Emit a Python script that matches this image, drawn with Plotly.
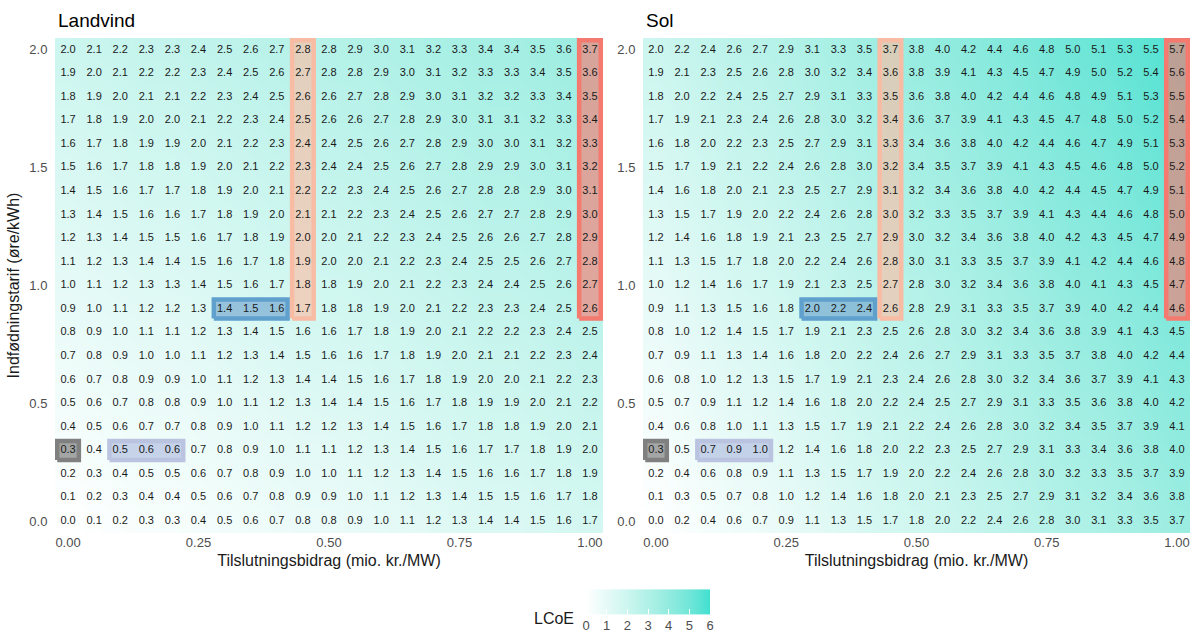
import plotly.graph_objects as go

FONT = "Arial, Liberation Sans, sans-serif"

# Axes: connection charge (columns) and feed-in tariff (rows)
tilslutningsbidrag = [0.00, 0.05, 0.10, 0.15, 0.20, 0.25, 0.30, 0.35, 0.40, 0.45, 0.50,
                      0.55, 0.60, 0.65, 0.70, 0.75, 0.80, 0.85, 0.90, 0.95, 1.00]
indfoedningstarif = [0.0, 0.1, 0.2, 0.3, 0.4, 0.5, 0.6, 0.7, 0.8, 0.9, 1.0,
                     1.1, 1.2, 1.3, 1.4, 1.5, 1.6, 1.7, 1.8, 1.9, 2.0]
x_ticks = [0.00, 0.25, 0.50, 0.75, 1.00]
x_ticktext = ["0.00", "0.25", "0.50", "0.75", "1.00"]
y_ticks = [0.0, 0.5, 1.0, 1.5, 2.0]
y_ticktext = ["0.0", "0.5", "1.0", "1.5", "2.0"]
lcoe_ticks = [0, 1, 2, 3, 4, 5, 6]

# LCoE tables, one row per tariff level, highest tariff (2.0) first
landvind_rows = [
    "2.0 2.1 2.2 2.3 2.3 2.4 2.5 2.6 2.7 2.8 2.8 2.9 3.0 3.1 3.2 3.3 3.4 3.4 3.5 3.6 3.7",
    "1.9 2.0 2.1 2.2 2.2 2.3 2.4 2.5 2.6 2.7 2.8 2.8 2.9 3.0 3.1 3.2 3.3 3.3 3.4 3.5 3.6",
    "1.8 1.9 2.0 2.1 2.1 2.2 2.3 2.4 2.5 2.6 2.6 2.7 2.8 2.9 3.0 3.1 3.2 3.2 3.3 3.4 3.5",
    "1.7 1.8 1.9 2.0 2.0 2.1 2.2 2.3 2.4 2.5 2.6 2.6 2.7 2.8 2.9 3.0 3.1 3.1 3.2 3.3 3.4",
    "1.6 1.7 1.8 1.9 1.9 2.0 2.1 2.2 2.3 2.4 2.4 2.5 2.6 2.7 2.8 2.9 3.0 3.0 3.1 3.2 3.3",
    "1.5 1.6 1.7 1.8 1.8 1.9 2.0 2.1 2.2 2.3 2.4 2.4 2.5 2.6 2.7 2.8 2.9 2.9 3.0 3.1 3.2",
    "1.4 1.5 1.6 1.7 1.7 1.8 1.9 2.0 2.1 2.2 2.2 2.3 2.4 2.5 2.6 2.7 2.8 2.8 2.9 3.0 3.1",
    "1.3 1.4 1.5 1.6 1.6 1.7 1.8 1.9 2.0 2.1 2.1 2.2 2.3 2.4 2.5 2.6 2.7 2.7 2.8 2.9 3.0",
    "1.2 1.3 1.4 1.5 1.5 1.6 1.7 1.8 1.9 2.0 2.0 2.1 2.2 2.3 2.4 2.5 2.6 2.6 2.7 2.8 2.9",
    "1.1 1.2 1.3 1.4 1.4 1.5 1.6 1.7 1.8 1.9 2.0 2.0 2.1 2.2 2.3 2.4 2.5 2.5 2.6 2.7 2.8",
    "1.0 1.1 1.2 1.3 1.3 1.4 1.5 1.6 1.7 1.8 1.8 1.9 2.0 2.1 2.2 2.3 2.4 2.4 2.5 2.6 2.7",
    "0.9 1.0 1.1 1.2 1.2 1.3 1.4 1.5 1.6 1.7 1.8 1.8 1.9 2.0 2.1 2.2 2.3 2.3 2.4 2.5 2.6",
    "0.8 0.9 1.0 1.1 1.1 1.2 1.3 1.4 1.5 1.6 1.6 1.7 1.8 1.9 2.0 2.1 2.2 2.2 2.3 2.4 2.5",
    "0.7 0.8 0.9 1.0 1.0 1.1 1.2 1.3 1.4 1.5 1.6 1.6 1.7 1.8 1.9 2.0 2.1 2.1 2.2 2.3 2.4",
    "0.6 0.7 0.8 0.9 0.9 1.0 1.1 1.2 1.3 1.4 1.4 1.5 1.6 1.7 1.8 1.9 2.0 2.0 2.1 2.2 2.3",
    "0.5 0.6 0.7 0.8 0.8 0.9 1.0 1.1 1.2 1.3 1.4 1.4 1.5 1.6 1.7 1.8 1.9 1.9 2.0 2.1 2.2",
    "0.4 0.5 0.6 0.7 0.7 0.8 0.9 1.0 1.1 1.2 1.2 1.3 1.4 1.5 1.6 1.7 1.8 1.8 1.9 2.0 2.1",
    "0.3 0.4 0.5 0.6 0.6 0.7 0.8 0.9 1.0 1.1 1.1 1.2 1.3 1.4 1.5 1.6 1.7 1.7 1.8 1.9 2.0",
    "0.2 0.3 0.4 0.5 0.5 0.6 0.7 0.8 0.9 1.0 1.0 1.1 1.2 1.3 1.4 1.5 1.6 1.6 1.7 1.8 1.9",
    "0.1 0.2 0.3 0.4 0.4 0.5 0.6 0.7 0.8 0.9 0.9 1.0 1.1 1.2 1.3 1.4 1.5 1.5 1.6 1.7 1.8",
    "0.0 0.1 0.2 0.3 0.3 0.4 0.5 0.6 0.7 0.8 0.8 0.9 1.0 1.1 1.2 1.3 1.4 1.4 1.5 1.6 1.7",
]

sol_rows = [
    "2.0 2.2 2.4 2.6 2.7 2.9 3.1 3.3 3.5 3.7 3.8 4.0 4.2 4.4 4.6 4.8 5.0 5.1 5.3 5.5 5.7",
    "1.9 2.1 2.3 2.5 2.6 2.8 3.0 3.2 3.4 3.6 3.8 3.9 4.1 4.3 4.5 4.7 4.9 5.0 5.2 5.4 5.6",
    "1.8 2.0 2.2 2.4 2.5 2.7 2.9 3.1 3.3 3.5 3.6 3.8 4.0 4.2 4.4 4.6 4.8 4.9 5.1 5.3 5.5",
    "1.7 1.9 2.1 2.3 2.4 2.6 2.8 3.0 3.2 3.4 3.6 3.7 3.9 4.1 4.3 4.5 4.7 4.8 5.0 5.2 5.4",
    "1.6 1.8 2.0 2.2 2.3 2.5 2.7 2.9 3.1 3.3 3.4 3.6 3.8 4.0 4.2 4.4 4.6 4.7 4.9 5.1 5.3",
    "1.5 1.7 1.9 2.1 2.2 2.4 2.6 2.8 3.0 3.2 3.4 3.5 3.7 3.9 4.1 4.3 4.5 4.6 4.8 5.0 5.2",
    "1.4 1.6 1.8 2.0 2.1 2.3 2.5 2.7 2.9 3.1 3.2 3.4 3.6 3.8 4.0 4.2 4.4 4.5 4.7 4.9 5.1",
    "1.3 1.5 1.7 1.9 2.0 2.2 2.4 2.6 2.8 3.0 3.2 3.3 3.5 3.7 3.9 4.1 4.3 4.4 4.6 4.8 5.0",
    "1.2 1.4 1.6 1.8 1.9 2.1 2.3 2.5 2.7 2.9 3.0 3.2 3.4 3.6 3.8 4.0 4.2 4.3 4.5 4.7 4.9",
    "1.1 1.3 1.5 1.7 1.8 2.0 2.2 2.4 2.6 2.8 3.0 3.1 3.3 3.5 3.7 3.9 4.1 4.2 4.4 4.6 4.8",
    "1.0 1.2 1.4 1.6 1.7 1.9 2.1 2.3 2.5 2.7 2.8 3.0 3.2 3.4 3.6 3.8 4.0 4.1 4.3 4.5 4.7",
    "0.9 1.1 1.3 1.5 1.6 1.8 2.0 2.2 2.4 2.6 2.8 2.9 3.1 3.3 3.5 3.7 3.9 4.0 4.2 4.4 4.6",
    "0.8 1.0 1.2 1.4 1.5 1.7 1.9 2.1 2.3 2.5 2.6 2.8 3.0 3.2 3.4 3.6 3.8 3.9 4.1 4.3 4.5",
    "0.7 0.9 1.1 1.3 1.4 1.6 1.8 2.0 2.2 2.4 2.6 2.7 2.9 3.1 3.3 3.5 3.7 3.8 4.0 4.2 4.4",
    "0.6 0.8 1.0 1.2 1.3 1.5 1.7 1.9 2.1 2.3 2.4 2.6 2.8 3.0 3.2 3.4 3.6 3.7 3.9 4.1 4.3",
    "0.5 0.7 0.9 1.1 1.2 1.4 1.6 1.8 2.0 2.2 2.4 2.5 2.7 2.9 3.1 3.3 3.5 3.6 3.8 4.0 4.2",
    "0.4 0.6 0.8 1.0 1.1 1.3 1.5 1.7 1.9 2.1 2.2 2.4 2.6 2.8 3.0 3.2 3.4 3.5 3.7 3.9 4.1",
    "0.3 0.5 0.7 0.9 1.0 1.2 1.4 1.6 1.8 2.0 2.2 2.3 2.5 2.7 2.9 3.1 3.3 3.4 3.6 3.8 4.0",
    "0.2 0.4 0.6 0.8 0.9 1.1 1.3 1.5 1.7 1.9 2.0 2.2 2.4 2.6 2.8 3.0 3.2 3.3 3.5 3.7 3.9",
    "0.1 0.3 0.5 0.7 0.8 1.0 1.2 1.4 1.6 1.8 2.0 2.1 2.3 2.5 2.7 2.9 3.1 3.2 3.4 3.6 3.8",
    "0.0 0.2 0.4 0.6 0.7 0.9 1.1 1.3 1.5 1.7 1.8 2.0 2.2 2.4 2.6 2.8 3.0 3.1 3.3 3.5 3.7",
]

# Highlighted cell groups: (x from, x to, y from, y to, outline, fill)
highlights = [
    (0.00, 0.00, 0.3, 0.3, "rgb(128,128,128)", "rgba(128,128,128,0.7)"),
    (0.10, 0.20, 0.3, 0.3, "rgb(186,196,224)", "rgba(180,192,225,0.7)"),
    (0.30, 0.40, 0.9, 0.9, "rgb(95,160,205)", "rgba(95,150,200,0.55)"),
    (0.45, 0.45, 0.9, 2.0, "rgb(248,188,165)", "rgba(255,185,160,0.6)"),
    (1.00, 1.00, 0.9, 2.0, "rgb(244,122,112)", "rgba(245,125,115,0.65)"),
]


def lab_gradient(c0, c1, n=13):
    """White-to-colour gradient interpolated in CIE Lab space."""
    def to_lin(c):
        c = c / 255
        return c / 12.92 if c <= 0.04045 else ((c + 0.055) / 1.055) ** 2.4

    def from_lin(c):
        c = 12.92 * c if c <= 0.0031308 else 1.055 * c ** (1 / 2.4) - 0.055
        return max(0, min(255, round(c * 255)))

    wn = (0.95047, 1.0, 1.08883)

    def f(t):
        return t ** (1 / 3) if t > 216 / 24389 else (24389 / 27 * t + 16) / 116

    def finv(t):
        return t ** 3 if t ** 3 > 216 / 24389 else (116 * t - 16) / (24389 / 27)

    def rgb2lab(rgb):
        r, g, b = (to_lin(v) for v in rgb)
        X = 0.4124 * r + 0.3576 * g + 0.1805 * b
        Y = 0.2126 * r + 0.7152 * g + 0.0722 * b
        Z = 0.0193 * r + 0.1192 * g + 0.9505 * b
        fx, fy, fz = f(X / wn[0]), f(Y / wn[1]), f(Z / wn[2])
        return (116 * fy - 16, 500 * (fx - fy), 200 * (fy - fz))

    def lab2rgb(lab):
        L, a, b = lab
        fy = (L + 16) / 116
        fx = fy + a / 500
        fz = fy - b / 200
        X, Y, Z = finv(fx) * wn[0], finv(fy) * wn[1], finv(fz) * wn[2]
        r = 3.2406 * X - 1.5372 * Y - 0.4986 * Z
        g = -0.9689 * X + 1.8758 * Y + 0.0415 * Z
        bb = 0.0557 * X - 0.2040 * Y + 1.0570 * Z
        return tuple(from_lin(max(0, v)) for v in (r, g, bb))

    l0, l1 = rgb2lab(c0), rgb2lab(c1)
    out = []
    for i in range(n):
        t = i / (n - 1)
        lab = tuple(a + (b - a) * t for a, b in zip(l0, l1))
        r, g, b = lab2rgb(lab)
        out.append([t, f"rgb({r},{g},{b})"])
    return out


colorscale = lab_gradient((255, 255, 255), (64, 224, 208))

W, H = 1195, 640
panels = [
    ("Landvind", landvind_rows, (55, 603), "x", "y"),
    ("Sol", sol_rows, (643, 1190), "x2", "y2"),
]
plot_top, plot_bottom = 38, 533
x_range = [-0.025, 1.025]
y_range = [-0.05, 2.05]
line_w = 4.5

fig = go.Figure()
annotations = []
layout_axes = {}

for idx, (title, rows, (px0, px1), xa, ya) in enumerate(panels):
    labels = [r.split() for r in reversed(rows)]  # bottom row first
    z = [[float(v) for v in row] for row in labels]

    fig.add_trace(go.Heatmap(
        x=tilslutningsbidrag, y=indfoedningstarif, z=z,
        coloraxis="coloraxis", zsmooth="best", hoverinfo="skip",
        xaxis=xa, yaxis=ya,
    ))

    # half-line inset so outlines sit inside the cell edges
    dx = (line_w / 2) * (x_range[1] - x_range[0]) / (px1 - px0)
    dy = (line_w / 2) * (y_range[1] - y_range[0]) / (plot_bottom - plot_top)
    for (hx0, hx1, hy0, hy1, lc, fc) in highlights:
        xa0, xa1 = hx0 - 0.025 + dx, hx1 + 0.025 - dx
        ya0, ya1 = hy0 - 0.05 + dy, hy1 + 0.05 - dy
        fig.add_trace(go.Scatter(
            x=[xa0, xa1, xa1, xa0, xa0], y=[ya0, ya0, ya1, ya1, ya0],
            mode="lines", fill="toself", fillcolor=fc,
            line=dict(color=lc, width=line_w), hoverinfo="skip",
            showlegend=False, xaxis=xa, yaxis=ya,
        ))

    tx, ty, tt = [], [], []
    for j, yv in enumerate(indfoedningstarif):
        for i, xv in enumerate(tilslutningsbidrag):
            tx.append(xv)
            ty.append(yv)
            tt.append(labels[j][i])
    fig.add_trace(go.Scatter(
        x=tx, y=ty, text=tt, mode="text",
        textfont=dict(family=FONT, size=11, color="#1a1a1a"),
        hoverinfo="skip", showlegend=False, xaxis=xa, yaxis=ya,
    ))

    suffix = "" if idx == 0 else "2"
    layout_axes["xaxis" + suffix] = dict(
        domain=[px0 / W, px1 / W], range=x_range, anchor=ya,
        tickvals=x_ticks, ticktext=x_ticktext,
        showgrid=False, zeroline=False, showline=False,
        ticks="",
        tickfont=dict(family=FONT, size=13, color="#4d4d4d"),
        title=dict(text="Tilslutningsbidrag (mio. kr./MW)", standoff=5,
                   font=dict(family=FONT, size=16, color="#1a1a1a")),
    )
    layout_axes["yaxis" + suffix] = dict(
        domain=[1 - plot_bottom / H, 1 - plot_top / H], range=y_range, anchor=xa,
        tickvals=y_ticks, ticktext=y_ticktext,
        showgrid=False, zeroline=False, showline=False,
        ticks="outside", ticklen=4, tickcolor="rgba(0,0,0,0)",
        tickfont=dict(family=FONT, size=13, color="#4d4d4d"),
        title=dict(text="Indfødningstarif (øre/kWh)" if idx == 0 else "", standoff=5,
                   font=dict(family=FONT, size=16, color="#1a1a1a")),
    )
    annotations.append(dict(
        text=title, xref="paper", yref="paper", x=(px0 + 1) / W, y=1 - 20 / H,
        xanchor="left", yanchor="middle", showarrow=False,
        font=dict(family=FONT, size=19, color="#000000"),
    ))

annotations.append(dict(
    text="LCoE", xref="paper", yref="paper", x=576 / W, y=1 - 618 / H,
    xanchor="right", yanchor="middle", showarrow=False,
    font=dict(family=FONT, size=16, color="#1a1a1a"),
))

fig.update_layout(
    width=W, height=H,
    margin=dict(l=0, r=0, t=0, b=0),
    paper_bgcolor="white", plot_bgcolor="white",
    font=dict(family=FONT),
    showlegend=False,
    annotations=annotations,
    coloraxis=dict(
        colorscale=colorscale, cmin=0, cmax=6,
        colorbar=dict(
            orientation="h",
            x=648 / W, xanchor="center",
            y=1 / H, yanchor="bottom",
            thickness=25, thicknessmode="pixels",
            len=124, lenmode="pixels", xpad=0, ypad=0,
            outlinewidth=0, tickvals=lcoe_ticks,
            ticks="inside", ticklen=5, tickcolor="white", tickwidth=1,
            tickfont=dict(family=FONT, size=13, color="#4d4d4d"),
            title=dict(text=""),
        ),
    ),
    **layout_axes,
)

fig.write_html("out.html")
